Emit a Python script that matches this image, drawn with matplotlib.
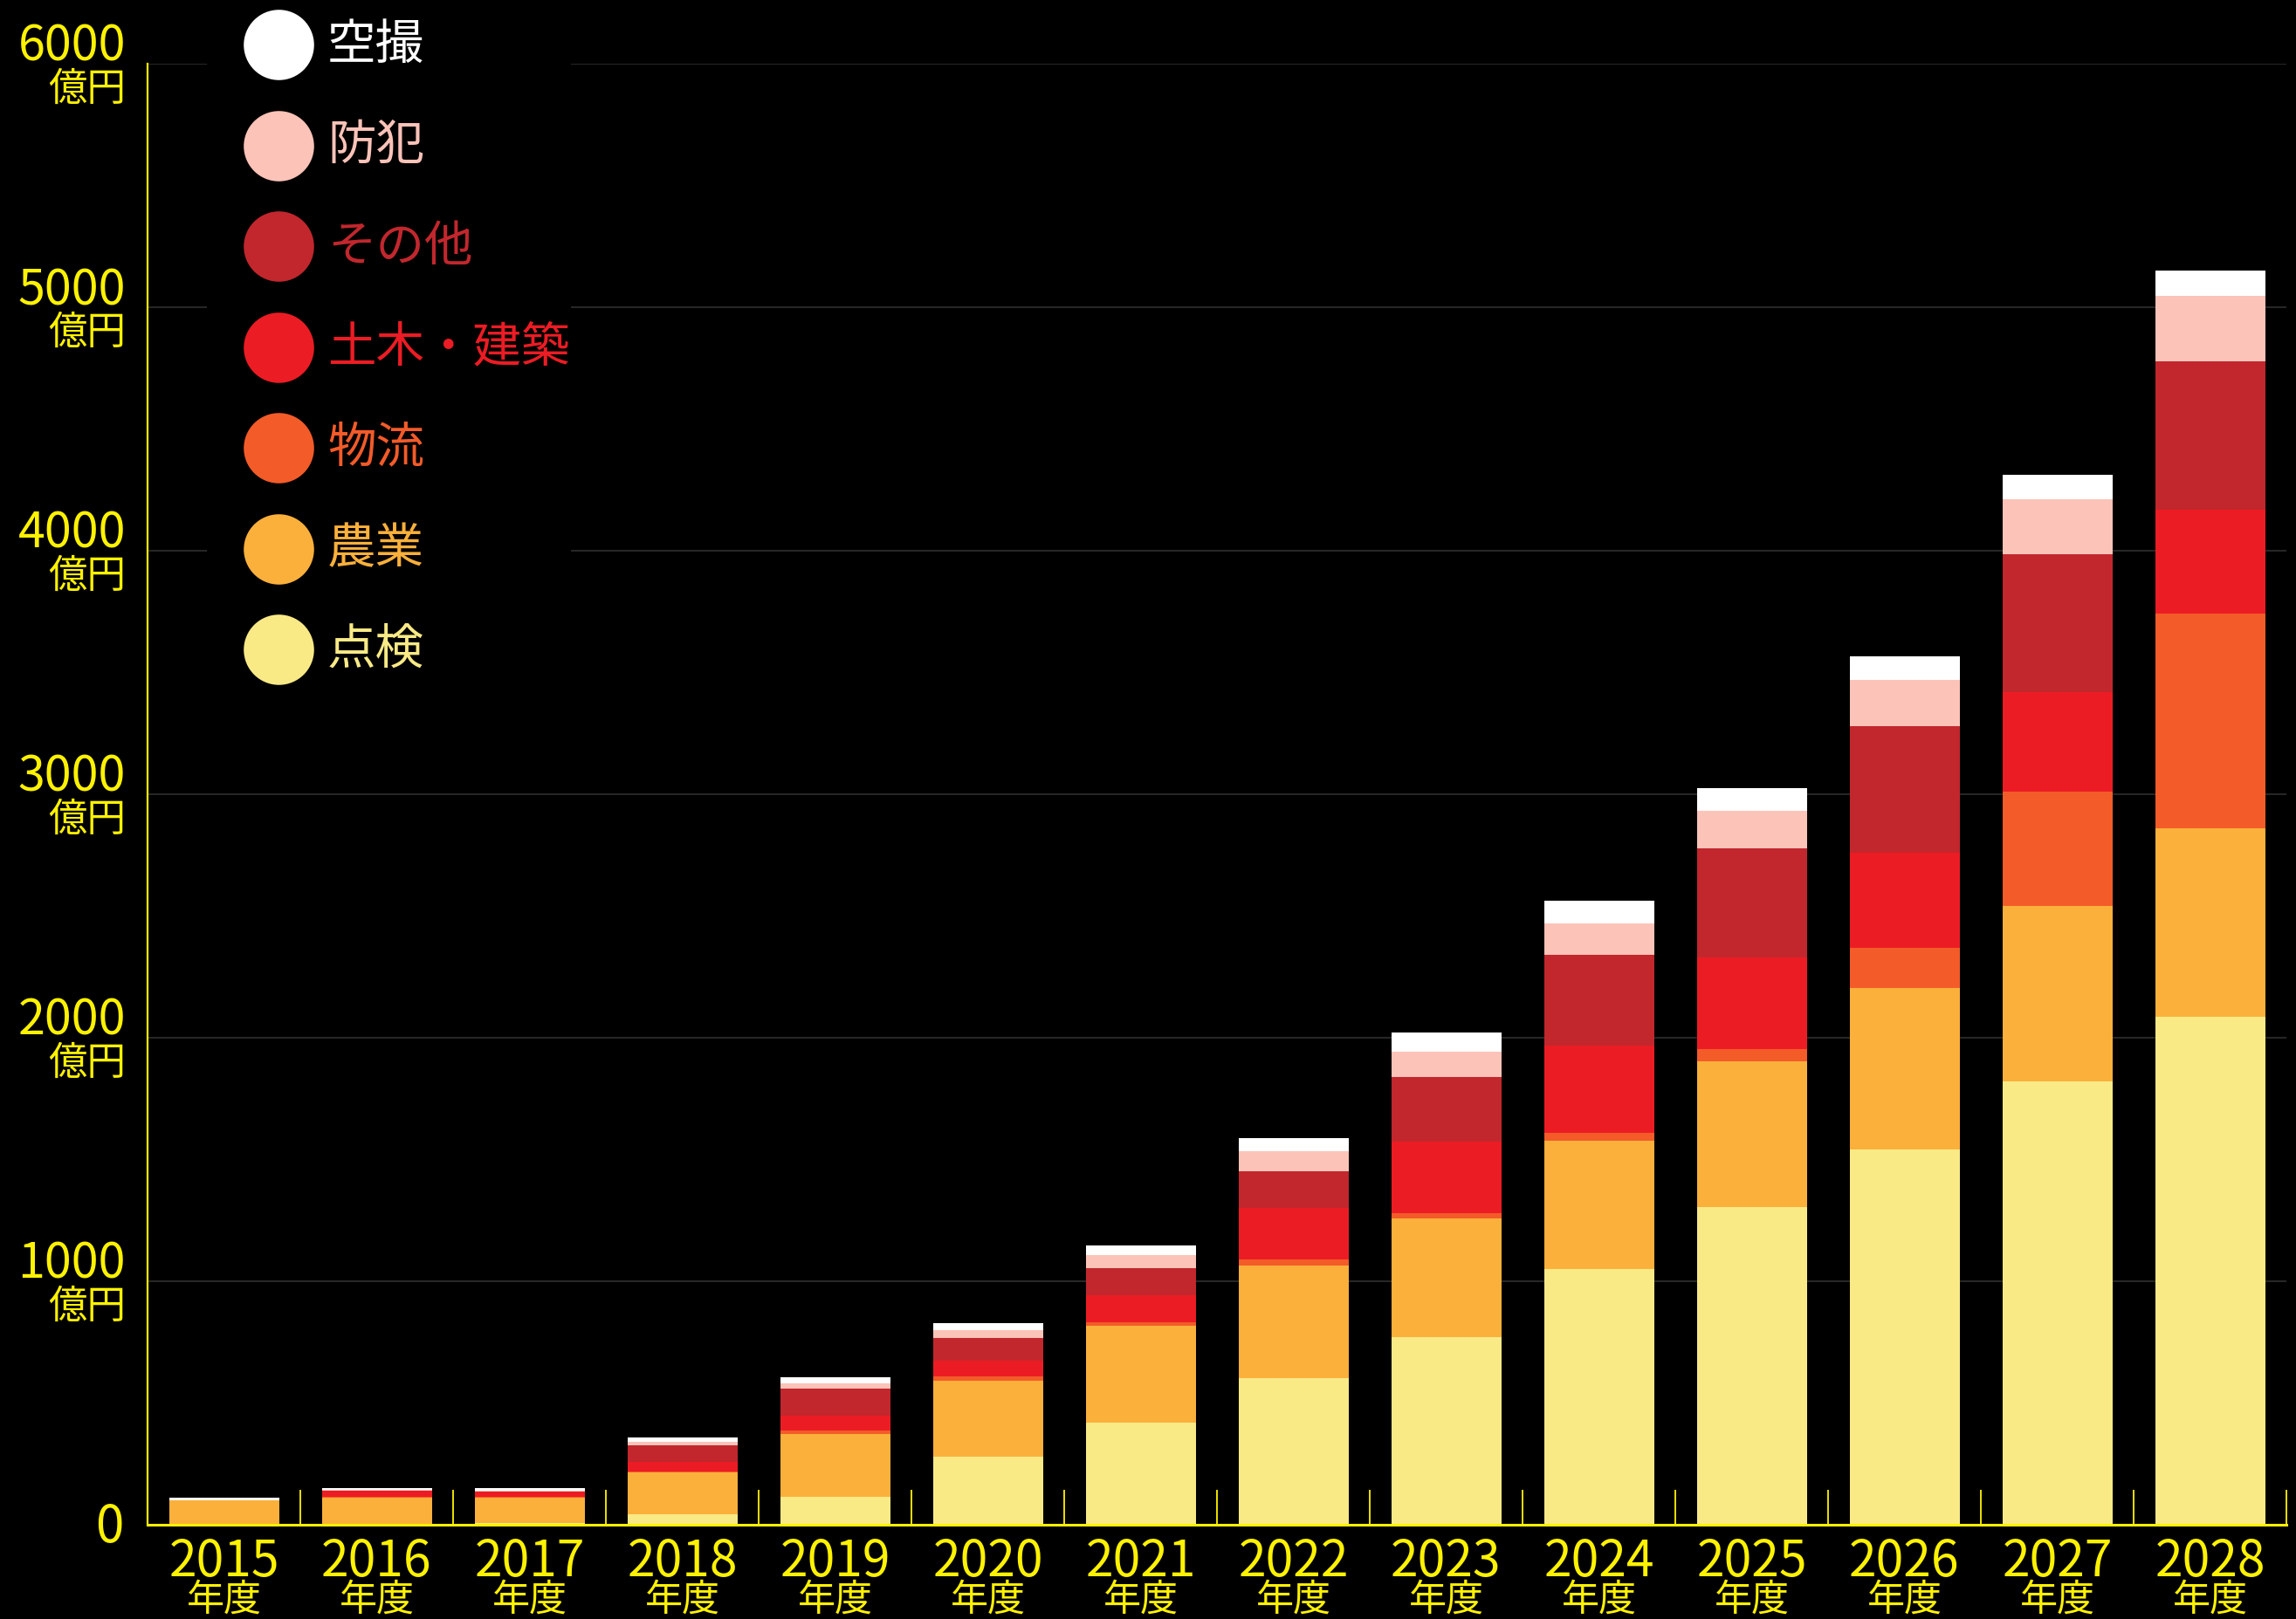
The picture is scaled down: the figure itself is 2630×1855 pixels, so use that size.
import matplotlib
matplotlib.use("Agg")
import matplotlib.pyplot as plt
import matplotlib.transforms as mtransforms
from matplotlib.lines import Line2D
from matplotlib.patches import Rectangle
from matplotlib import font_manager
import numpy as np

# ---------------- data ----------------
years = ["2015", "2016", "2017", "2018", "2019", "2020", "2021",
         "2022", "2023", "2024", "2025", "2026", "2027", "2028"]
year_suffix = "年度"
series_names = ["点検", "農業", "物流", "土木・建築", "その他", "防犯", "空撮"]
tenken   = [0, 0, 6, 42, 114, 278, 420, 602, 772, 1050, 1304, 1542, 1820, 2085]
nogyo    = [99, 111, 105, 172, 259, 314, 398, 462, 485, 527, 601, 664, 722, 775]
butsuryu = [0, 2, 2, 4, 14, 16, 15, 24, 21, 31, 50, 162, 469, 883]
doboku   = [0, 26, 24, 39, 61, 67, 109, 212, 296, 358, 376, 391, 407, 424]
sonota   = [0, 0, 0, 70, 110, 93, 111, 153, 265, 375, 447, 521, 569, 611]
bohan    = [3, 3, 3, 13, 21, 30, 55, 80, 105, 130, 153, 188, 224, 269]
kusatsu  = [8, 10, 12, 18, 27, 30, 39, 55, 77, 90, 95, 98, 101, 105]
y_ticks = [0, 1000, 2000, 3000, 4000, 5000, 6000]
y_unit = "億円"

series_values = [tenken, nogyo, butsuryu, doboku, sonota, bohan, kusatsu]
colors = ["#f9ea86", "#fbb03b", "#f35b29", "#ec1c24", "#c1272d", "#fcc3b8", "#ffffff"]
YELLOW = "#fff200"
JP = ["Noto Sans CJK JP", "DejaVu Sans"]
available = {f.name for f in font_manager.fontManager.ttflist}
if "Liberation Sans Narrow" in available:
    NUM = ["Liberation Sans Narrow", "Noto Sans CJK JP"]
    year_size = 44
else:
    NUM = JP
    year_size = 41

W, H, DPI = 2630, 1856, 100
fig = plt.figure(figsize=(W / DPI, H / DPI), dpi=DPI, facecolor="black")
ax = fig.add_axes([169 / W, 1 - 1748 / H, (2619 - 169) / W, (1748 - 74) / H])
ax.set_facecolor("black")

x = np.arange(len(years))
bottom = np.zeros(len(years))
for name, vals, c in zip(series_names, series_values, colors):
    ax.bar(x, vals, width=0.72, bottom=bottom, color=c, edgecolor="none",
           zorder=2, label=name)
    bottom += np.array(vals)

ax.set_xlim(-0.5, len(years) - 0.5)
ax.set_ylim(0, 6000)

# grid
ax.set_axisbelow(True)
for v in y_ticks[1:]:
    ax.axhline(v, color="#2c2c2c", lw=1.3, zorder=0.5)

# spines
for s in ["top", "right"]:
    ax.spines[s].set_visible(False)
ax.spines["left"].set_color(YELLOW)
ax.spines["left"].set_linewidth(1.6)
ax.spines["bottom"].set_color(YELLOW)
ax.spines["bottom"].set_linewidth(2.2)

# ticks: boundaries as short inward ticks, no y ticks
ax.set_xticks(np.arange(-0.5, len(years), 1.0))
ax.set_xticklabels([])
ax.tick_params(axis="x", direction="in", length=29, width=1.3, color=YELLOW)
ax.set_yticks([])

# year labels
xt = ax.get_xaxis_transform()
for i, y in enumerate(years):
    t1 = mtransforms.offset_copy(xt, fig=fig, x=0, y=-58, units="dots")
    ax.text(i, 0, y, transform=t1, ha="center", va="baseline",
            fontsize=year_size, color=YELLOW, family=NUM)
    t2 = mtransforms.offset_copy(xt, fig=fig, x=0, y=-98, units="dots")
    ax.text(i, 0, year_suffix, transform=t2, ha="center", va="baseline",
            fontsize=31, color=YELLOW, family=JP)

# y labels
yt = ax.get_yaxis_transform()
for v in y_ticks:
    if v == 0:
        t = mtransforms.offset_copy(yt, fig=fig, x=-27, y=-19, units="dots")
        ax.text(0, v, "0", transform=t, ha="right", va="baseline",
                fontsize=42, color=YELLOW, family=JP)
        continue
    t1 = mtransforms.offset_copy(yt, fig=fig, x=-25, y=4, units="dots")
    ax.text(0, v, str(v), transform=t1, ha="right", va="baseline",
            fontsize=40, color=YELLOW, family=JP)
    t2 = mtransforms.offset_copy(yt, fig=fig, x=-25, y=-41, units="dots")
    ax.text(0, v, y_unit, transform=t2, ha="right", va="baseline",
            fontsize=32, color=YELLOW, family=JP)

# legend (top to bottom: reverse of stacking)
fig.add_artist(Rectangle((237 / W, 1 - 790 / H), (654 - 237) / W, 790 / H,
                         transform=fig.transFigure, facecolor="black",
                         edgecolor="none", zorder=1))
for k, (name, c) in enumerate(zip(series_names[::-1], colors[::-1])):
    cy = 52 + 115.5 * k
    fig.add_artist(Line2D([319 / W], [1 - cy / H], marker="o", markersize=58,
                          color=c, markeredgewidth=0, linestyle="",
                          transform=fig.transFigure, zorder=3))
    fig.text(375 / W, 1 - cy / H, name, ha="left", va="center",
             fontsize=40, color=c, family=JP, zorder=3)

fig.savefig("out.png", dpi=DPI, facecolor="black")
